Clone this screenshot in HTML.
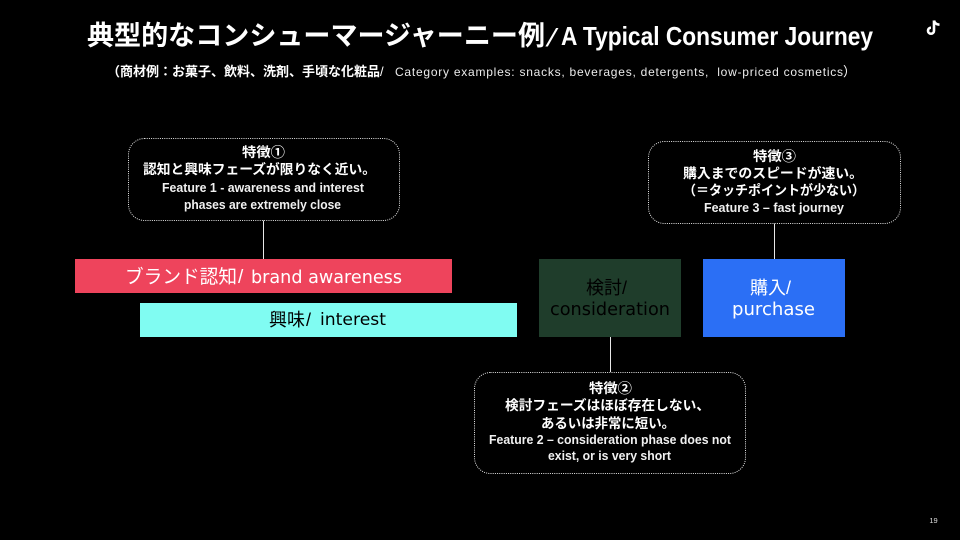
<!DOCTYPE html>
<html lang="ja"><head><meta charset="utf-8"><title>A Typical Consumer Journey</title>
<style>
html,body{margin:0;padding:0;background:#000;width:960px;height:540px;overflow:hidden}
svg{display:block}
text{font-family:"Liberation Sans","Noto Sans CJK JP",sans-serif;white-space:pre}
.j{font-family:"Noto Sans CJK JP","Liberation Sans",sans-serif}
.w{fill:#fff}
.b{font-weight:700}
.f{font-size:12.5px;font-weight:700;fill:#f0f0f0}
.c{font-size:13.5px;font-weight:700;fill:#fff}
.box{fill:#000;stroke:#e4e4e4;stroke-width:1;stroke-dasharray:1 1.2}
.ln{stroke:#e8e8e8;stroke-width:1}
</style></head>
<body>
<svg width="960" height="540" viewBox="0 0 960 540" xmlns="http://www.w3.org/2000/svg">
<rect width="960" height="540" fill="#000"/>
<text class="j w b" x="87" y="45" font-size="27" textLength="458" lengthAdjust="spacingAndGlyphs">典型的なコンシューマージャーニー例</text>
<text class="j w" x="545" y="43" font-size="19" textLength="14" lengthAdjust="spacingAndGlyphs">/</text>
<text class="w b" x="561" y="45" font-size="26" textLength="312" lengthAdjust="spacingAndGlyphs">A Typical Consumer Journey</text>
<text class="j w b" x="107" y="76" font-size="13" textLength="273" lengthAdjust="spacingAndGlyphs">（商材例：お菓子、飲料、洗剤、手頃な化粧品</text>
<text class="w" x="380" y="76" font-size="13">/</text>
<text class="w" x="395" y="76" font-size="12" fill-opacity=".92" textLength="448" lengthAdjust="spacing">Category examples: snacks, beverages, detergents,  low-priced cosmetics</text>
<text class="j w" x="843" y="76" font-size="13">）</text>
<path d="M934 20.5v10.2a3 3 0 1 1-3-3" fill="none" stroke="#fff" stroke-width="2.6"/>
<path d="M934 20.5c.5 2.6 2.3 4 5.5 4.2" fill="none" stroke="#fff" stroke-width="2.6"/>

<line class="ln" x1="263.5" y1="220" x2="263.5" y2="259"/>
<line class="ln" x1="774.5" y1="223" x2="774.5" y2="259"/>
<line class="ln" x1="610.5" y1="337" x2="610.5" y2="372"/>

<rect x="75" y="259" width="377" height="34" fill="#EE445C"/>
<rect x="140" y="303" width="377" height="34" fill="#80FCF2"/>
<rect x="539" y="259" width="142" height="78" fill="#1F3D2B"/>
<rect x="703" y="259" width="142" height="78" fill="#2B6FF5"/>

<text class="j" fill="#fff" x="125" y="283" font-size="19" textLength="112" lengthAdjust="spacingAndGlyphs">ブランド認知</text>
<text fill="#fff" x="238" y="283" font-size="19">/</text>
<text fill="#fff" x="251" y="283" font-size="18" style="font-family:'DejaVu Sans',sans-serif" textLength="151" lengthAdjust="spacingAndGlyphs">brand awareness</text>

<text class="j" fill="#000" x="269" y="326" font-size="18" textLength="36">興味</text>
<text fill="#000" x="306" y="326" font-size="18">/</text>
<text fill="#000" x="320" y="325" font-size="17" style="font-family:'DejaVu Sans',sans-serif" textLength="66" lengthAdjust="spacingAndGlyphs">interest</text>

<text class="j" fill="#000" x="586" y="294" font-size="18" textLength="36">検討</text>
<text fill="#000" x="622" y="294" font-size="18">/</text>
<text fill="#000" x="550" y="315" font-size="17.5" style="font-family:'DejaVu Sans',sans-serif" textLength="120" lengthAdjust="spacingAndGlyphs">consideration</text>

<text class="j" fill="#fff" x="750" y="294" font-size="18" textLength="36">購入</text>
<text fill="#fff" x="786" y="294" font-size="18">/</text>
<text fill="#fff" x="732" y="315" font-size="17.5" style="font-family:'DejaVu Sans',sans-serif" textLength="83" lengthAdjust="spacingAndGlyphs">purchase</text>

<rect class="box" x="128.5" y="138.5" width="271" height="82" rx="16"/>
<text class="j c" x="242" y="157" textLength="43" lengthAdjust="spacingAndGlyphs">特徴①</text>
<text class="j c" x="143" y="174" textLength="233" lengthAdjust="spacingAndGlyphs">認知と興味フェーズが限りなく近い。</text>
<text class="f" x="162" y="192" textLength="202" lengthAdjust="spacingAndGlyphs">Feature 1 - awareness and interest</text>
<text class="f" x="184" y="209" textLength="157" lengthAdjust="spacingAndGlyphs">phases are extremely close</text>

<rect class="box" x="648.5" y="141.5" width="252" height="82" rx="16"/>
<text class="j c" x="753" y="161" textLength="43" lengthAdjust="spacingAndGlyphs">特徴③</text>
<text class="j c" x="683" y="178" textLength="180" lengthAdjust="spacingAndGlyphs">購入までのスピードが速い。</text>
<text class="j c" x="683" y="195" textLength="182" lengthAdjust="spacingAndGlyphs">（＝タッチポイントが少ない）</text>
<text class="f" x="704" y="212" textLength="140" lengthAdjust="spacingAndGlyphs">Feature 3 – fast journey</text>

<rect class="box" x="474.5" y="372.5" width="271" height="101" rx="16"/>
<text class="j c" x="589" y="393" textLength="43" lengthAdjust="spacingAndGlyphs">特徴②</text>
<text class="j c" x="505" y="410" textLength="205" lengthAdjust="spacingAndGlyphs">検討フェーズはほぼ存在しない、</text>
<text class="j c" x="541" y="428" textLength="134" lengthAdjust="spacingAndGlyphs">あるいは非常に短い。</text>
<text class="f" x="489" y="444" textLength="242" lengthAdjust="spacingAndGlyphs">Feature 2 – consideration phase does not</text>
<text class="f" x="548" y="460" textLength="123" lengthAdjust="spacingAndGlyphs">exist, or is very short</text>

<text fill="#ddd" x="933.5" y="523" font-size="7.5" text-anchor="middle">19</text>
</svg>
</body></html>
